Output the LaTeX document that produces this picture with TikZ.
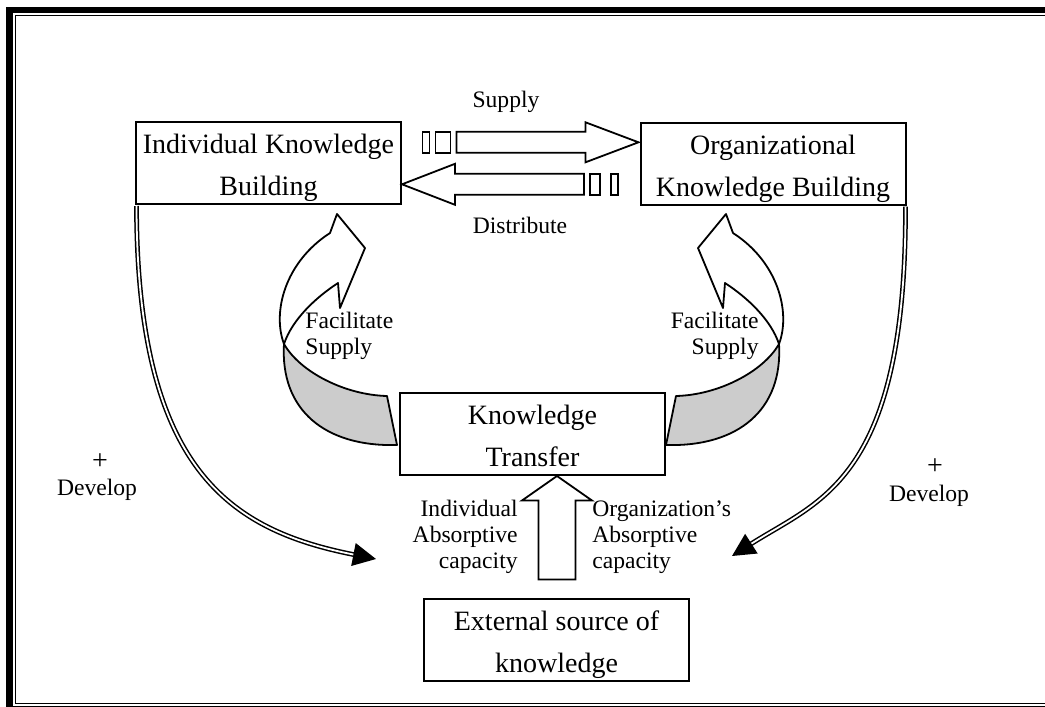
\documentclass[tikz,border=0pt]{standalone}
\usepackage{fontspec}
\setmainfont{Liberation Serif}
\usetikzlibrary{arrows.meta,calc}

\tikzset{
  box/.style={draw, line width=1pt, minimum width=132.5pt, minimum height=41pt, inner sep=0pt,
    align=center, text height=35.5pt, text depth=3pt, font=\fontsize{14}{21}\selectfont},
  lbl/.style={inner sep=0pt, font=\fontsize{11.8}{13}\selectfont},
  blockarrow/.style={draw, line width=0.9pt, fill=white, line join=miter},
  ribbon/.style={draw, line width=0.9pt, line join=round},
  develop/.style={double, double distance=0.9pt, line width=0.75pt,
    -{Triangle[length=11.5pt,width=11.5pt]}}
}
% one curved "facilitate" ribbon, left hand version
\newcommand{\facilribbon}{%
  \filldraw[ribbon,fill=black!20] (284,344) .. controls (300,372) and (345,395) .. (387,396)
    -- (397,445) .. controls (325,447) and (280,410) .. (284,344) -- cycle;
  \filldraw[ribbon,fill=white] (284,344) .. controls (272,312) and (285,262) .. (330,233)
    -- (337,214) -- (365,248) -- (340,308) -- (338,283)
    .. controls (315,298) and (292,320) .. (284,344) -- cycle;
}

\begin{document}
\begin{tikzpicture}[x=0.5pt,y=-0.5pt]
\useasboundingbox (0,0) rectangle (1045,707);
\clip (0,0) rectangle (1045,707);
% frame
\draw[line width=3.2pt] (9.5,10) rectangle (1057,709.5);
\draw[line width=0.6pt] (15.6,15.6) rectangle (1050,703.5);

% boxes
\node[box] (ikb) at (268.5,163) {Individual Knowledge\\Building};
\node[box] (okb) at (773,163.5) {Organizational\\Knowledge Building};
\node[box] (kt) at (532.5,433.5) {Knowledge\\Transfer};
\node[box] (ext) at (556.5,640) {External source of\\knowledge};

% supply / distribute
\coordinate (suptip) at ($(okb.west)+(-1,-21.2)$);
\coordinate (distip) at ($(ikb.east)+(0,21.3)$);
\draw[blockarrow] (suptip) -- ++(-53,-20) -- ++(0,9.5) -- ++(-129,0) -- ++(0,21)
  -- ++(129,0) -- ++(0,9.5) -- cycle;
\draw[blockarrow] ($(suptip)+(-203,-10.5)$) rectangle ++(15,21);
\draw[blockarrow] ($(suptip)+(-216,-10.5)$) rectangle ++(7,21);
\draw[blockarrow] (distip) -- ++(53,-20.5) -- ++(0,10) -- ++(129,0) -- ++(0,21)
  -- ++(-129,0) -- ++(0,10) -- cycle;
\draw[blockarrow] ($(distip)+(188,-10.5)$) rectangle ++(10,21);
\draw[blockarrow] ($(distip)+(209,-10.5)$) rectangle ++(7,21);
\node[lbl] (supply) at (506,102) {Supply};
\node[lbl] (distribute) at (520,225) {Distribute};

% facilitate ribbons
\facilribbon
\begin{scope}[shift={(1063,0)},xscale=-1]
\facilribbon
\end{scope}
\node[lbl,anchor=west,align=left] (facl) at (305,336) {Facilitate\\Supply};
\node[lbl,anchor=east,align=right] (facr) at (759,336) {Facilitate\\Supply};

% absorptive capacity
\coordinate (uptip) at ($(kt.south)+(24.5,0.5)$);
\draw[blockarrow] (uptip) -- ++(35,24.5) -- ++(-16.5,0) -- ++(0,79) -- ++(-37,0)
  -- ++(0,-79) -- ++(-16.5,0) -- cycle;
\node[lbl,anchor=east,align=right] (absl) at (518,537) {Individual\\Absorptive\\capacity};
\node[lbl,anchor=west,align=left] (absr) at (592,537) {Organization’s\\Absorptive\\capacity};

% develop
\coordinate (devl) at (376,559);
\coordinate (devr) at (732,556);
\draw[develop] ($(ikb.south west)+(1.5,1)$) .. controls (137,470) and (230,530) .. (devl);
\draw[develop] ($(okb.south east)+(-1,1)$) .. controls (906,480) and (820,500) .. (devr);
\node[font=\fontsize{14}{16}\selectfont,inner sep=0pt] (plusl) at (100,462) {+};
\node[lbl] (devlbl) at (97,490) {Develop};
\node[font=\fontsize{14}{16}\selectfont,inner sep=0pt] (plusr) at (935,467) {+};
\node[lbl] (devrbl) at (929,496) {Develop};
\end{tikzpicture}
\end{document}
